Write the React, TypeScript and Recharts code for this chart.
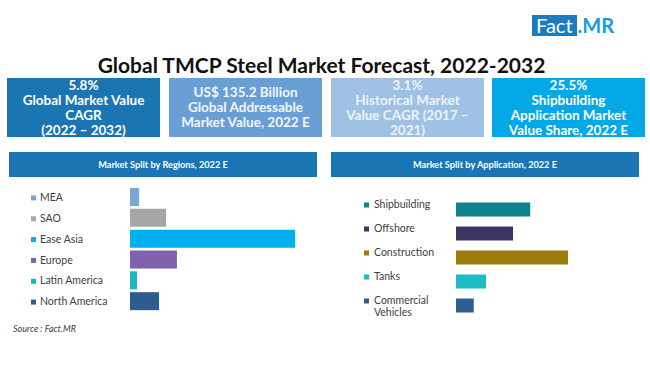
import { BarChart, Bar, XAxis, YAxis, Cell } from 'recharts';

const regionNames = ['MEA', 'SAO', 'Ease Asia', 'Europe', 'Latin America', 'North America'];
const regionShares = [3.1, 12.3, 56.3, 16.0, 2.4, 9.9];
const regionColors = ['#7aa7da', '#a6a6a6', '#00b0f0', '#7f62ae', '#1fb7bf', '#2e5c8f'];

const appNames = ['Shipbuilding', 'Offshore', 'Construction', 'Tanks', 'Commercial Vehicles'];
const appShares = [25.5, 19.6, 38.5, 10.3, 6.1];
const appColors = ['#10808a', '#3b3563', '#9c7c0c', '#1bbdc5', '#2f5e95'];

const statBoxes = [
    { lines: ['5.8%', 'Global Market Value', 'CAGR', '(2022 – 2032)'], bg: '#1b75b3', fg: '#ffffff' },
    { lines: ['US$ 135.2 Billion', 'Global Addressable', 'Market Value, 2022 E'], bg: '#6a9fd6', fg: '#f2f6fb' },
    { lines: ['3.1%', 'Historical Market', 'Value CAGR (2017 –', '2021)'], bg: '#9fc1e3', fg: '#eef3fa' },
    { lines: ['25.5%', 'Shipbuilding', 'Application Market', 'Value Share, 2022 E'], bg: '#03a8e6', fg: '#ffffff' },
];

const regionData = regionNames.map((name, i) => ({ name, value: regionShares[i] }));
const appData = appNames.map((name, i) => ({ name, value: appShares[i] }));

const FONT = 'Lato, "Open Sans", sans-serif';

function RegionTick(props: any) {
    const { y, payload, index } = props;
    return (
        <g>
            <rect x={31} y={y - 2} width={5} height={5} fill={regionColors[index]} />
            <text x={40} y={y + 1} fontSize={10.5} fill='#404040' fontFamily={FONT} dominantBaseline='middle'>
                {payload.value}
            </text>
        </g>
    );
}

function AppTick(props: any) {
    const { y, payload, index } = props;
    const words = String(payload.value).split(' ');
    const lines = words.length > 1 ? words : [payload.value];
    const top = y - 4;
    return (
        <g>
            <rect x={39} y={top - 3} width={5} height={5} fill={appColors[index]} />
            {lines.map((ln: string, i: number) => (
                <text key={i} x={49} y={top + i * 12} fontSize={10.5} fill='#404040' fontFamily={FONT} dominantBaseline='middle'>
                    {ln}
                </text>
            ))}
        </g>
    );
}

function Header({ left, text }: { left: number; text: string }) {
    return (
        <div
            style={{
                position: 'absolute',
                left,
                top: 152,
                width: 308,
                height: 25,
                background: '#1b75b3',
                color: '#fff',
                fontSize: 9.2,
                fontWeight: 700,
                display: 'flex',
                alignItems: 'center',
                justifyContent: 'center',
            }}
        >
            {text}
        </div>
    );
}

export default function App() {
    const boxLefts = [7, 169, 331, 492];
    return (
        <div
            style={{
                position: 'absolute',
                left: 0,
                top: 0,
                width: 650,
                height: 368,
                background: '#fff',
                fontFamily: FONT,
                overflow: 'hidden',
            }}
        >
            <div style={{ position: 'absolute', left: 532, top: 15, height: 21, display: 'flex', fontSize: 20, lineHeight: '21px' }}>
                <span style={{ background: '#1a7cbf', color: '#fff', padding: '0 4px 0 4px' }}>Fact</span>
                <span style={{ color: '#1a9bd7', fontWeight: 700, paddingLeft: 1 }}>.MR</span>
            </div>
            <div
                style={{
                    position: 'absolute',
                    left: 0,
                    width: 643,
                    top: 52,
                    textAlign: 'center',
                    fontSize: 21,
                    fontWeight: 700,
                    color: '#111',
                }}
            >
                Global TMCP Steel Market Forecast, 2022-2032
            </div>
            {statBoxes.map((b, i) => (
                <div
                    key={i}
                    style={{
                        position: 'absolute',
                        left: boxLefts[i],
                        top: 78,
                        width: 153,
                        height: 59,
                        background: b.bg,
                        color: b.fg,
                        fontSize: 13.5,
                        fontWeight: 700,
                        lineHeight: '15px',
                        display: 'flex',
                        flexDirection: 'column',
                        alignItems: 'center',
                        justifyContent: 'center',
                        textAlign: 'center',
                    }}
                >
                    {b.lines.map((l, j) => (
                        <div key={j} style={{ whiteSpace: 'nowrap' }}>{l}</div>
                    ))}
                </div>
            ))}
            <Header left={9} text='Market Split by Regions, 2022 E' />
            <Header left={331} text='Market Split by Application, 2022 E' />

            <div style={{ position: 'absolute', left: 0, top: 180 }}>
                <BarChart
                    width={320}
                    height={135}
                    data={regionData}
                    layout='vertical'
                    margin={{ top: 7, right: 14, bottom: 3, left: 0 }}
                >
                    <XAxis type='number' domain={[0, 60]} hide />
                    <YAxis
                        type='category'
                        dataKey='name'
                        width={130}
                        axisLine={false}
                        tickLine={false}
                        tick={<RegionTick />}
                        interval={0}
                    />
                    <Bar dataKey='value' barSize={18} isAnimationActive={false}>
                        {regionData.map((d, i) => (
                            <Cell key={d.name} fill={regionColors[i]} />
                        ))}
                    </Bar>
                </BarChart>
            </div>

            <div style={{ position: 'absolute', left: 325, top: 190 }}>
                <BarChart
                    width={260}
                    height={130}
                    data={appData}
                    layout='vertical'
                    margin={{ top: 7.5, right: 12.6, bottom: 2.5, left: 0 }}
                >
                    <XAxis type='number' domain={[0, 40]} hide />
                    <YAxis
                        type='category'
                        dataKey='name'
                        width={131}
                        axisLine={false}
                        tickLine={false}
                        tick={<AppTick />}
                        interval={0}
                    />
                    <Bar dataKey='value' barSize={14} isAnimationActive={false}>
                        {appData.map((d, i) => (
                            <Cell key={d.name} fill={appColors[i]} />
                        ))}
                    </Bar>
                </BarChart>
            </div>

            <div
                style={{
                    position: 'absolute',
                    left: 13,
                    top: 323,
                    fontSize: 9,
                    fontStyle: 'italic',
                    color: '#404040',
                }}
            >
                Source : Fact.MR
            </div>
        </div>
    );
}
